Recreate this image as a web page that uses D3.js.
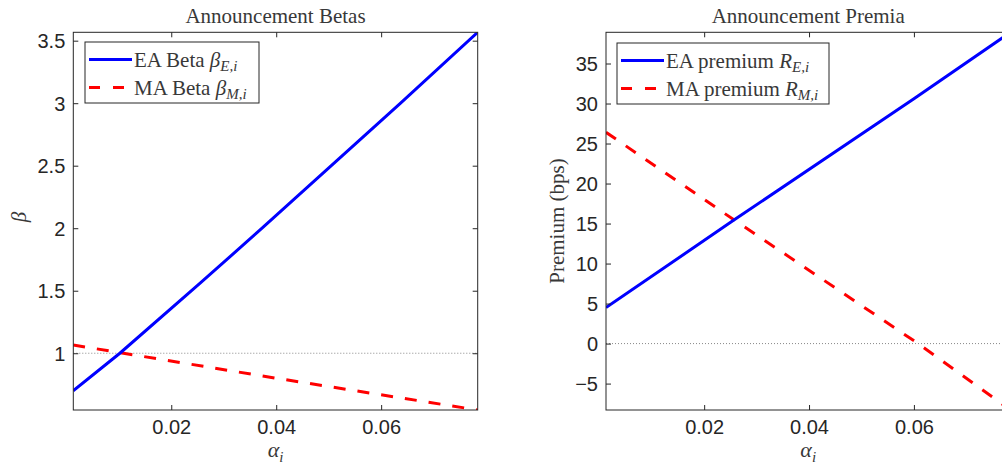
<!DOCTYPE HTML>
<html>
<head>
<meta charset="utf-8" />
<script src="https://d3js.org/d3.v7.min.js"></script>
<style>
body { margin: 0; background: #fff; }
svg { display: block; }
.tick-label { font-family: "Liberation Sans", Arial, sans-serif; font-size: 20px; fill: #262626; }
.serif { font-family: "Liberation Serif", "Times New Roman", serif; fill: #383838; }
</style>
</head>
<body>
<svg id="chart" width="1002" height="464"></svg>
<script>
// left panel: announcement betas
var alphaBetaEA = [0.0013, 0.0102, 0.0255, 0.0373, 0.0505, 0.0637, 0.0784];
var betaEA      = [0.70, 1.00, 1.56, 2.00, 2.50, 3.00, 3.567];
var alphaBetaMA = [0.0013, 0.0400, 0.0784];
var betaMA      = [1.066, 0.80, 0.546];

// right panel: announcement premia (bps)
var alphaPremEA = [0.00128, 0.0256, 0.0600, 0.0784];
var premEA      = [4.5, 15.4, 30.6, 38.9];
var alphaPremMA = [0.00128, 0.0256, 0.0608, 0.0784];
var premMA      = [26.4, 15.5, 0, -8.3];

var xTicks = [0.02, 0.04, 0.06];
var betaTicks = [1, 1.5, 2, 2.5, 3, 3.5];
var premTicks = [-5, 0, 5, 10, 15, 20, 25, 30, 35];

var svg = d3.select("#chart");
var axisColor = "#262626";

function panel(opt) {
    var g = svg.append("g");
    var x = d3.scaleLinear().domain(opt.xDomain).range([opt.left, opt.right]);
    var y = d3.scaleLinear().domain(opt.yDomain).range([opt.bottom, opt.top]);

    var clipId = "clip" + opt.id;
    svg.append("clipPath").attr("id", clipId)
        .append("rect")
        .attr("x", opt.left).attr("y", opt.top)
        .attr("width", opt.right - opt.left).attr("height", opt.bottom - opt.top);

    // reference dotted line
    g.append("line")
        .attr("x1", opt.left).attr("x2", opt.right)
        .attr("y1", y(opt.refY)).attr("y2", y(opt.refY))
        .attr("stroke", "#888").attr("stroke-width", 1)
        .attr("stroke-dasharray", "1,2");

    var line = d3.line().x(function(d) { return x(d[0]); }).y(function(d) { return y(d[1]); });

    g.append("path")
        .datum(d3.zip(opt.xMA, opt.yMA))
        .attr("clip-path", "url(#" + clipId + ")")
        .attr("d", line)
        .attr("fill", "none").attr("stroke", "#ff0000")
        .attr("stroke-width", 3).attr("stroke-dasharray", "12,12");

    g.append("path")
        .datum(d3.zip(opt.xEA, opt.yEA))
        .attr("clip-path", "url(#" + clipId + ")")
        .attr("d", line)
        .attr("fill", "none").attr("stroke", "#0000ff")
        .attr("stroke-width", 3);

    // axes (box on, ticks inward on all sides)
    var tl = 5;
    var axB = g.append("g").attr("transform", "translate(0," + opt.bottom + ")")
        .call(d3.axisBottom(x).tickValues(opt.xTicks).tickSizeInner(-tl).tickSizeOuter(0).tickPadding(10)
            .tickFormat(d3.format(".2f")));
    var axT = g.append("g").attr("transform", "translate(0," + opt.top + ")")
        .call(d3.axisTop(x).tickValues(opt.xTicks).tickSizeInner(-tl).tickSizeOuter(0).tickFormat(""));
    var axL = g.append("g").attr("transform", "translate(" + opt.left + ",0)")
        .call(d3.axisLeft(y).tickValues(opt.yTicks).tickSizeInner(-tl).tickSizeOuter(0).tickPadding(8)
            .tickFormat(d3.format("")));
    var axR = g.append("g").attr("transform", "translate(" + opt.right + ",0)")
        .call(d3.axisRight(y).tickValues(opt.yTicks).tickSizeInner(-tl).tickSizeOuter(0).tickFormat(""));
    [axB, axT, axL, axR].forEach(function(a) {
        a.select(".domain").remove();
        a.selectAll("line").attr("stroke", axisColor);
        a.selectAll("text").attr("class", "tick-label").attr("font-size", null).attr("font-family", null);
    });
    axB.selectAll("text").attr("dy", "0.71em");
    axL.selectAll("text").attr("dy", "0.35em");

    g.append("rect")
        .attr("x", opt.left).attr("y", opt.top)
        .attr("width", opt.right - opt.left).attr("height", opt.bottom - opt.top)
        .attr("fill", "none").attr("stroke", axisColor).attr("stroke-width", 1);

    // title
    g.append("text").attr("class", "serif")
        .attr("x", (opt.left + opt.right) / 2).attr("y", 23)
        .attr("text-anchor", "middle").attr("font-size", 21)
        .text(opt.title);

    // x label alpha_i
    var xl = g.append("text").attr("class", "serif")
        .attr("x", (opt.left + opt.right) / 2).attr("y", 457)
        .attr("text-anchor", "middle").attr("font-size", 22).attr("font-style", "italic");
    xl.append("tspan").text("α");
    xl.append("tspan").attr("font-size", 15).attr("dy", 5).text("i");

    // y label
    var yl = g.append("text").attr("class", "serif")
        .attr("transform", "translate(" + opt.yLabelX + "," + opt.yLabelY + ") rotate(-90)")
        .attr("text-anchor", "middle").attr("font-size", 21)
        .text(opt.yLabel);
    if (opt.yLabelItalic) yl.attr("font-style", "italic");

    // legend
    var lg = g.append("g");
    lg.append("rect")
        .attr("x", opt.legX).attr("y", opt.legY)
        .attr("width", opt.legW).attr("height", 61)
        .attr("fill", "#fff").attr("stroke", axisColor).attr("stroke-width", 1);
    var items = [
        { color: "#0000ff", dash: null, label: opt.legEA, sym: opt.sym, sub: "E,i", y: opt.legY + 17.5 },
        { color: "#ff0000", dash: "11,13", label: opt.legMA, sym: opt.sym, sub: "M,i", y: opt.legY + 45.5 }
    ];
    items.forEach(function(it) {
        lg.append("line")
            .attr("x1", opt.legX + 4).attr("x2", opt.legX + 47)
            .attr("y1", it.y).attr("y2", it.y)
            .attr("stroke", it.color).attr("stroke-width", 3)
            .attr("stroke-dasharray", it.dash);
        var t = lg.append("text").attr("class", "serif")
            .attr("x", opt.legX + 49).attr("y", it.y + 7)
            .attr("font-size", 21);
        t.append("tspan").text(it.label + " ");
        t.append("tspan").attr("font-style", "italic").text(it.sym);
        t.append("tspan").attr("font-style", "italic").attr("font-size", 15).attr("dy", 4).text(it.sub);
    });
}

panel({
    id: "L", left: 73.3, right: 477.7, top: 32.3, bottom: 410,
    xDomain: [0.00133, 0.0784], yDomain: [0.546, 3.567],
    xEA: alphaBetaEA, yEA: betaEA, xMA: alphaBetaMA, yMA: betaMA,
    refY: 1, xTicks: xTicks, yTicks: betaTicks,
    title: "Announcement Betas",
    yLabel: "β", yLabelItalic: true, yLabelX: 26, yLabelY: 217,
    legX: 85, legY: 42, legW: 174,
    legEA: "EA Beta", legMA: "MA Beta", sym: "β"
});

panel({
    id: "R", left: 606, right: 1010.4, top: 32.3, bottom: 410,
    xDomain: [0.00128, 0.0784], yDomain: [-8.3, 38.9],
    xEA: alphaPremEA, yEA: premEA, xMA: alphaPremMA, yMA: premMA,
    refY: 0, xTicks: xTicks, yTicks: premTicks,
    title: "Announcement Premia",
    yLabel: "Premium (bps)", yLabelItalic: false, yLabelX: 564, yLabelY: 221,
    legX: 617, legY: 43, legW: 212,
    legEA: "EA premium", legMA: "MA premium", sym: "R"
});
</script>
</body>
</html>
